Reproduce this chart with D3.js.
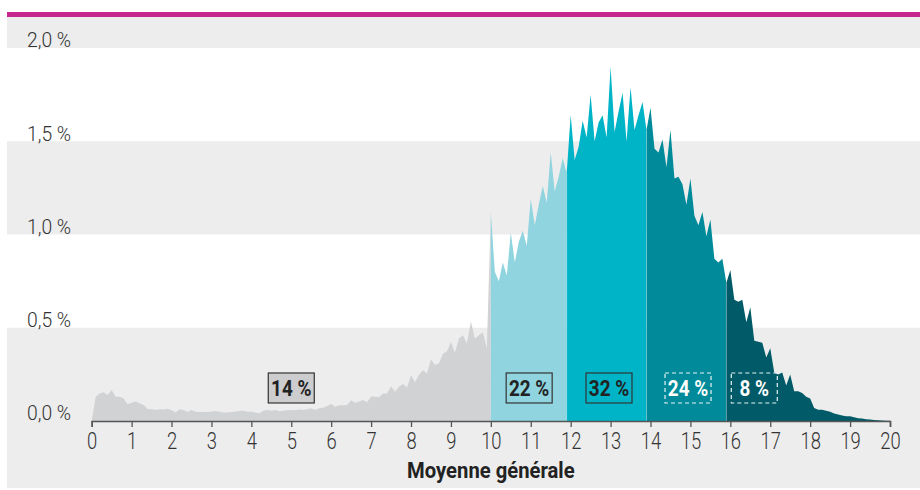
<!DOCTYPE html>
<html>
<head>
<meta charset="utf-8">
<script src="https://cdn.jsdelivr.net/npm/d3@7"></script>
<style>
  body { margin: 0; background: #fff; }
  svg text { font-family: "Roboto", "Liberation Sans", sans-serif; }
</style>
</head>
<body>
<div class="chart"></div>
<script>
// Share of pupils (%) by overall average, one value per 0.1 point, grades 0.0 .. 20.0
var shares = [
    0,
    0.13, 0.148, 0.154, 0.14, 0.166, 0.13, 0.13, 0.12, 0.09,          // 0.1 - 0.9
    0.098, 0.104, 0.095, 0.086, 0.064, 0.063, 0.059, 0.063, 0.061, 0.066, // 1.x
    0.059, 0.046, 0.063, 0.059, 0.048, 0.059, 0.05, 0.048, 0.048, 0.048,  // 2.x
    0.05, 0.054, 0.05, 0.045, 0.045, 0.048, 0.05, 0.054, 0.055, 0.05,     // 3.x
    0.05, 0.046, 0.041, 0.055, 0.059, 0.055, 0.059, 0.052, 0.055, 0.057,  // 4.x
    0.059, 0.057, 0.061, 0.059, 0.063, 0.068, 0.059, 0.068, 0.071, 0.08,  // 5.x
    0.091, 0.077, 0.084, 0.084, 0.086, 0.111, 0.098, 0.104, 0.113, 0.1,   // 6.x
    0.132, 0.13, 0.128, 0.148, 0.148, 0.186, 0.157, 0.184, 0.198, 0.18,   // 7.x
    0.247, 0.208, 0.248, 0.272, 0.256, 0.33, 0.30, 0.31, 0.36, 0.372,     // 8.x
    0.425, 0.366, 0.443, 0.46, 0.416, 0.533, 0.443, 0.46, 0.474, 0.39,    // 9.x
    1.12, 0.80, 0.75, 0.85, 0.78, 1.01, 0.85, 0.96, 1.02, 0.94,           // 10.x
    1.19, 1.05, 1.16, 1.26, 1.17, 1.44, 1.23, 1.31, 1.41, 1.33,           // 11.x
    1.64, 1.40, 1.47, 1.61, 1.52, 1.75, 1.50, 1.60, 1.64, 1.52,           // 12.x
    1.90, 1.55, 1.66, 1.76, 1.50, 1.79, 1.56, 1.64, 1.71, 1.56,           // 13.x
    1.68, 1.46, 1.44, 1.51, 1.36, 1.56, 1.30, 1.31, 1.27, 1.16,           // 14.x
    1.30, 1.10, 1.05, 1.12, 0.99, 1.08, 0.87, 0.85, 0.87, 0.74,           // 15.x
    0.81, 0.65, 0.64, 0.65, 0.53, 0.61, 0.43, 0.425, 0.42, 0.34,         // 16.x
    0.39, 0.26, 0.25, 0.26, 0.19, 0.25, 0.16, 0.16, 0.15, 0.13,           // 17.x
    0.12, 0.07, 0.06, 0.06, 0.055, 0.05, 0.04, 0.035, 0.03, 0.025,        // 18.x
    0.025, 0.02, 0.015, 0.013, 0.01, 0.008, 0.005, 0.004, 0.003, 0.002,   // 19.x
    0.001                                                                 // 20.0
];

// Grade classes: start / end of each coloured zone
var classStart = [0, 10, 11.9, 13.9, 15.9];
var classEnd = [10, 11.9, 13.9, 15.9, 20];
var classColors = ["#d1d2d4", "#8fd4df", "#00b4c8", "#008a9a", "#005a67"];

// Class labels and where they sit (grade units)
var classLabels = ["14 %", "22 %", "32 %", "24 %", "8 %"];
var labelGrade = [5, 10.96, 12.96, 14.94, 16.6];
var labelShare = 0.177;

var xTicks = d3.range(0, 21);
var yTicks = [0, 0.5, 1, 1.5, 2];
var xTitle = "Moyenne générale";

var svgWidth = 920;
var svgHeight = 490;

var points = shares.map(function (s, i) {
    return { grade: i / 10, share: s };
});

// squeeze text horizontally, the original uses a condensed face
function condense(sel, k) {
    sel.each(function () {
        var t = d3.select(this);
        var x = +t.attr("x") || 0;
        t.attr("x", x / k).attr("transform", "scale(" + k + ",1)");
    });
}

var svg = d3
    .select(".chart")
    .append("svg")
    .attr("width", svgWidth)
    .attr("height", svgHeight);

var xScale = d3.scaleLinear().domain([0, 20]).range([91.7, 890]);
var yScale = d3.scaleLinear().domain([0, 2]).range([421, 48]);

// Top magenta rule and grey panel
svg.append("rect")
    .attr("x", 7).attr("y", 12)
    .attr("width", svgWidth - 7).attr("height", 5)
    .attr("fill", "#c6278e");

svg.append("rect")
    .attr("x", 7).attr("y", 17)
    .attr("width", svgWidth - 7).attr("height", 471)
    .attr("fill", "#ededed");

// White bands between 0.5-1.0 and 1.5-2.0
svg.selectAll(".band")
    .data([[0.5, 1], [1.5, 2]])
    .enter()
    .append("rect")
    .attr("class", "band")
    .attr("x", 7)
    .attr("width", svgWidth - 7)
    .attr("y", function (d) { return yScale(d[1]); })
    .attr("height", function (d) { return yScale(d[0]) - yScale(d[1]); })
    .attr("fill", "#ffffff");

// Areas, one per grade class
var area = d3.area()
    .x(function (d) { return xScale(d.grade); })
    .y0(yScale(0))
    .y1(function (d) { return yScale(d.share); });

var chart = svg.append("g");

classStart.forEach(function (lo, k) {
    var hi = classEnd[k];
    var seg = points.filter(function (d) {
        return d.grade >= lo - 1e-6 && d.grade <= hi + 1e-6;
    });
    chart.append("path")
        .datum(seg)
        .attr("d", area)
        .attr("fill", classColors[k]);
});

// faint seams between the classes
chart.selectAll(".seam")
    .data(classStart.slice(2))
    .enter()
    .append("line")
    .attr("class", "seam")
    .attr("x1", function (d) { return xScale(d); })
    .attr("x2", function (d) { return xScale(d); })
    .attr("y1", yScale(0))
    .attr("y2", function (d) { return yScale(shares[Math.round(d * 10)]); })
    .attr("stroke", "rgba(255,255,255,0.3)")
    .attr("stroke-width", 0.8);

// Class labels in boxes
var boxW = 46, boxH = 30;
var labels = chart.selectAll(".class-label")
    .data(classLabels)
    .enter()
    .append("g")
    .attr("class", "class-label")
    .attr("transform", function (d, i) {
        return "translate(" + xScale(labelGrade[i]) + "," + yScale(labelShare) + ")";
    });

labels.append("rect")
    .attr("x", -boxW / 2)
    .attr("y", -boxH / 2)
    .attr("width", boxW)
    .attr("height", boxH)
    .attr("fill", function (d, i) { return i === 0 ? "#cdcdcf" : (i < 3 ? classColors[i] : "none"); })
    .attr("stroke", function (d, i) { return i < 3 ? "#333" : "#e8f4f6"; })
    .attr("stroke-width", 1.2)
    .attr("stroke-dasharray", function (d, i) { return i < 3 ? null : "4,3"; });

labels.append("text")
    .attr("text-anchor", "middle")
    .attr("y", 8)
    .style("font-size", "22px")
    .style("font-weight", "bold")
    .attr("fill", function (d, i) { return i < 3 ? "#222" : "#ffffff"; })
    .text(function (d) { return d; })
    .call(condense, 0.86);

// X axis
var bottomAxis = d3.axisBottom(xScale)
    .tickValues(xTicks)
    .tickSize(6)
    .tickPadding(6)
    .tickFormat(d3.format("d"));

var xAxis = svg.append("g")
    .attr("class", "x-axis")
    .attr("transform", "translate(0," + yScale(0) + ")")
    .call(bottomAxis);

xAxis.select(".domain").attr("stroke", "#555").attr("stroke-width", 1.6);
xAxis.selectAll(".tick line").attr("stroke", "#555").attr("stroke-width", 1.3);
xAxis.selectAll(".tick text")
    .attr("fill", "#333")
    .attr("font-family", null)
    .style("font-size", "23px")
    .style("font-weight", "300")
    .call(condense, 0.8);

// Y axis labels, sitting on their gridlines at the left edge
var leftAxis = d3.axisLeft(yScale)
    .tickValues(yTicks)
    .tickSize(0)
    .tickFormat(function (d) { return d3.format(".1f")(d).replace(".", ",") + " %"; });

var yAxis = svg.append("g")
    .attr("class", "y-axis")
    .call(leftAxis);

yAxis.select(".domain").remove();
yAxis.selectAll(".tick text")
    .attr("x", 27)
    .attr("dy", "-0.05em")
    .attr("text-anchor", "start")
    .attr("fill", "#333")
    .attr("font-family", null)
    .style("font-size", "21px")
    .style("font-weight", "300")
    .call(condense, 0.92);

// Axis title
svg.append("text")
    .attr("x", xScale(10))
    .attr("y", 478)
    .attr("text-anchor", "middle")
    .attr("fill", "#222")
    .style("font-size", "22px")
    .style("font-weight", "bold")
    .text(xTitle)
    .call(condense, 0.92);
</script>
</body>
</html>
